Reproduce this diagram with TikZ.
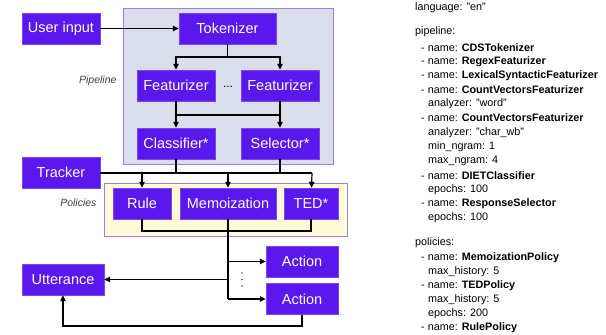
\documentclass[tikz,border=0pt]{standalone}
\usepackage{fontspec}
\setmainfont{Liberation Sans}
\usepackage{amsmath}
\usepackage{tikz}
\usetikzlibrary{arrows.meta}
\definecolor{rasapurple}{HTML}{5A17EE}
\definecolor{frameline}{HTML}{9B7BFF}
\definecolor{pipefill}{HTML}{D9DEEA}
\definecolor{polfill}{HTML}{FFFBD6}
\tikzset{
    comp/.style={rectangle, draw=rasapurple!80!white, fill=rasapurple, text=white,
        minimum height=31pt, inner sep=0pt, font=\fontsize{14.5}{16}\selectfont},
    flow/.style={black, line width=1.2pt},
    tip/.style={flow, -{Triangle[length=6pt,width=5.5pt]}},
    cfg/.style={anchor=west, inner sep=0pt, font=\fontsize{10.8}{12}\selectfont},
    grouplabel/.style={anchor=east, text=black!75, font=\fontsize{10.5}{12}\selectfont\itshape},
    dot/.style={circle, fill=black!70, inner sep=0pt, minimum size=1.8pt}
}

\begin{document}
\begin{tikzpicture}[x=1pt,y=-1pt]
        \useasboundingbox (0,0) rectangle (606,335);

        % Pipeline frame
        \draw[frameline, fill=pipefill, line width=1pt] (123,8) rectangle (333,164);
        \node[grouplabel] (pipelabel) at (120,81) {Pipeline};

        % Policies frame
        \draw[frameline, fill=polfill, line width=1pt] (104,183) rectangle (347,236);
        \node[grouplabel] (pollabel) at (100,203) {Policies};

        % Components
        \node[comp, minimum width=78pt] (userinput) at (61,28.5) {User input};
        \node[comp, minimum width=97pt] (tokenizer) at (227.5,28.5) {Tokenizer};
        \node[comp, minimum width=78pt] (feat1) at (176,85.5) {Featurizer};
        \node[comp, minimum width=78pt] (feat2) at (280,85.5) {Featurizer};
        \node (featdots) at (228,87) {\fontsize{12}{14}\selectfont ...};
        \node[comp, minimum width=78pt] (classifier) at (176,143.5) {Classifier*};
        \node[comp, minimum width=78pt] (selector) at (280,143.5) {Selector*};
        \node[comp, minimum width=78pt] (tracker) at (61,172.5) {Tracker};
        \node[comp, minimum width=58pt] (rule) at (142,203.5) {Rule};
        \node[comp, minimum width=96pt] (memo) at (228,203.5) {Memoization};
        \node[comp, minimum width=54pt] (ted) at (311,203.5) {TED*};
        \node[comp, minimum width=72pt] (action1) at (302,261.5) {Action};
        \node[comp, minimum width=72pt] (action2) at (302,299) {Action};
        \node[comp, minimum width=82pt] (utterance) at (63,279.5) {Utterance};

        % Vertical dots between the actions
        \foreach \y/\name in {273/dotA, 279.5/dotB, 286/dotC}
            \node[dot] (\name) at (242,\y) {};

        % Junction points
        \coordinate (toksplit) at (227.5,57);
        \coordinate (featjoinA) at (176,115);
        \coordinate (featjoinB) at (280,115);
        \coordinate (busend) at (312,173);
        \coordinate (busrule) at (142,173);
        \coordinate (busmemo) at (228,173);
        \coordinate (busclf) at (176,173);
        \coordinate (bussel) at (280,173);
        \coordinate (polrule) at (142,231);
        \coordinate (polted) at (311,231);
        \coordinate (actA) at (228,261.5);
        \coordinate (actU) at (228,279.5);
        \coordinate (actB) at (228,299);
        \coordinate (backturn) at (302,326);

        % Pipeline flow
        \draw[tip] (userinput) -- (tokenizer);
        \draw[flow] (tokenizer) -- (toksplit);
        \draw[tip] (toksplit) -| (feat1);
        \draw[tip] (toksplit) -| (feat2);
        \draw[tip] (feat1) -- (classifier);
        \draw[tip] (feat2) -- (selector);
        \draw[flow] (featjoinA) -- (featjoinB);

        % Into the policies
        \draw[flow] (tracker.east |- busend) -- (busend);
        \draw[flow] (classifier) -- (busclf);
        \draw[flow] (selector) -- (bussel);
        \draw[tip] (busrule) -- (rule);
        \draw[tip] (busmemo) -- (memo);
        \draw[tip] (busend) -- (ted);
        \draw[flow] (rule) -- (polrule) -- (polted) -- (ted);

        % Actions
        \draw[flow] (memo) -- (actB);
        \draw[tip] (actA) -- (action1);
        \draw[tip] (actB) -- (action2);
        \draw[tip] (actU) -- (utterance);
        \draw[tip] (action2) -- (backturn) -| (utterance);

        % Config listing
        \node[cfg] (lang) at (415,8) {language: "en"};
        \node[cfg] (pipehead) at (415,32) {pipeline:};
        \node[cfg] (c1) at (421,48) {- name: \textbf{CDSTokenizer}};
        \node[cfg] (c2) at (421,62) {- name: \textbf{RegexFeaturizer}};
        \node[cfg] (c3) at (421,76) {- name: \textbf{LexicalSyntacticFeaturizer}};
        \node[cfg] (c4) at (421,90) {- name: \textbf{CountVectorsFeaturizer}};
        \node[cfg] (c4a) at (428,104) {analyzer: "word"};
        \node[cfg] (c5) at (421,118) {- name: \textbf{CountVectorsFeaturizer}};
        \node[cfg] (c5a) at (428,133) {analyzer: "char\_wb"};
        \node[cfg] (c5b) at (428,147) {min\_ngram: 1};
        \node[cfg] (c5c) at (428,161) {max\_ngram: 4};
        \node[cfg] (c6) at (421,176) {- name: \textbf{DIETClassifier}};
        \node[cfg] (c6a) at (428,190) {epochs: 100};
        \node[cfg] (c7) at (421,204) {- name: \textbf{ResponseSelector}};
        \node[cfg] (c7a) at (428,218) {epochs: 100};
        \node[cfg] (polhead) at (415,243) {policies:};
        \node[cfg] (p1) at (421,258) {- name: \textbf{MemoizationPolicy}};
        \node[cfg] (p1a) at (428,272) {max\_history: 5};
        \node[cfg] (p2) at (421,286) {- name: \textbf{TEDPolicy}};
        \node[cfg] (p2a) at (428,300) {max\_history: 5};
        \node[cfg] (p2b) at (428,314) {epochs: 200};
        \node[cfg] (p3) at (421,328) {- name: \textbf{RulePolicy}};
\end{tikzpicture}
\end{document}
